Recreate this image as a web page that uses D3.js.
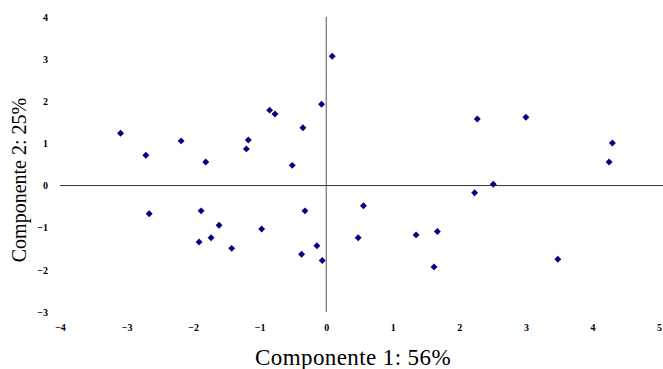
<!DOCTYPE html>
<head>
  <meta charset="utf-8">
  <script src="https://d3js.org/d3.v7.min.js"></script>
  <style>
    body { margin: 0; background: #fff; }
    text { font-family: "Liberation Serif", "Times New Roman", serif; }
    .tick text { font-size: 10px; font-weight: bold; fill: #000; font-family: "Liberation Serif", serif; }
    .title { fill: #000; }
    path.domain { display: none; }
    .tick line { display: none; }
  </style>
</head>
<body>
  <script>
    var width = 663, height = 369;

    // component scores
    var comp1 = [-3.09, -2.71, -2.18, -1.81, -1.20, -1.17, -0.85, -0.77, -0.51, -0.35, -0.07, 0.09,
                 2.27, 3.00, 4.30, 4.25, 2.51,
                 -2.66, -1.88, -1.61, -1.91, -1.73, -1.42, -0.97, -0.32, -0.14, -0.37, -0.06,
                 2.23, 0.56, 0.48, 1.35, 1.67, 1.62, 3.48];
    var comp2 = [1.24, 0.72, 1.06, 0.56, 0.87, 1.08, 1.79, 1.70, 0.48, 1.37, 1.93, 3.07,
                 1.58, 1.62, 1.01, 0.56, 0.03,
                 -0.67, -0.60, -0.94, -1.34, -1.24, -1.49, -1.03, -0.60, -1.43, -1.63, -1.78,
                 -0.17, -0.48, -1.24, -1.17, -1.09, -1.93, -1.75];
    var xTicks = [-4, -3, -2, -1, 0, 1, 2, 3, 4, 5];
    var yTicks = [-3, -2, -1, 0, 1, 2, 3, 4];

    var svg = d3.select("body").append("svg")
      .attr("width", width)
      .attr("height", height);

    var x = d3.scaleLinear().domain([-4, 5]).range([60, 659]);
    var y = d3.scaleLinear().domain([-3, 4]).range([312, 17]);

    // tick labels
    svg.append("g")
      .attr("transform", `translate(0, ${y(-3) + 12})`)
      .call(d3.axisBottom(x).tickValues(xTicks).tickFormat(d3.format("d")).tickSize(0).tickPadding(0));

    svg.append("g")
      .attr("transform", `translate(${x(-4) - 12}, 0)`)
      .call(d3.axisLeft(y).tickValues(yTicks).tickFormat(d3.format("d")).tickSize(0).tickPadding(0));

    // axes crossing at the origin
    svg.append("line")
      .attr("x1", x(-4)).attr("x2", width)
      .attr("y1", y(0)).attr("y2", y(0))
      .attr("stroke", "#333").attr("stroke-width", 1);

    svg.append("line")
      .attr("x1", x(0)).attr("x2", x(0))
      .attr("y1", y(4)).attr("y2", y(-3))
      .attr("stroke", "#555").attr("stroke-width", 1);

    var pts = comp1.map((d, i) => ({ c1: d, c2: comp2[i] }));

    svg.selectAll("path.pt")
      .data(pts)
      .enter()
      .append("path")
      .attr("class", "pt")
      .attr("d", d3.symbol().type(d3.symbolSquare).size(24))
      .attr("transform", d => `translate(${x(d.c1)}, ${y(d.c2)}) rotate(45)`)
      .style("fill", "#000080");

    svg.append("text")
      .attr("class", "title")
      .attr("x", 353)
      .attr("y", 365)
      .style("font-size", "23px")
      .style("letter-spacing", "0.4px")
      .style("text-anchor", "middle")
      .text("Componente 1: 56%");

    svg.append("text")
      .attr("class", "title")
      .attr("transform", "translate(26, 180) rotate(-90)")
      .style("font-size", "20px")
      .style("text-anchor", "middle")
      .text("Componente 2: 25%");
  </script>
</body>
